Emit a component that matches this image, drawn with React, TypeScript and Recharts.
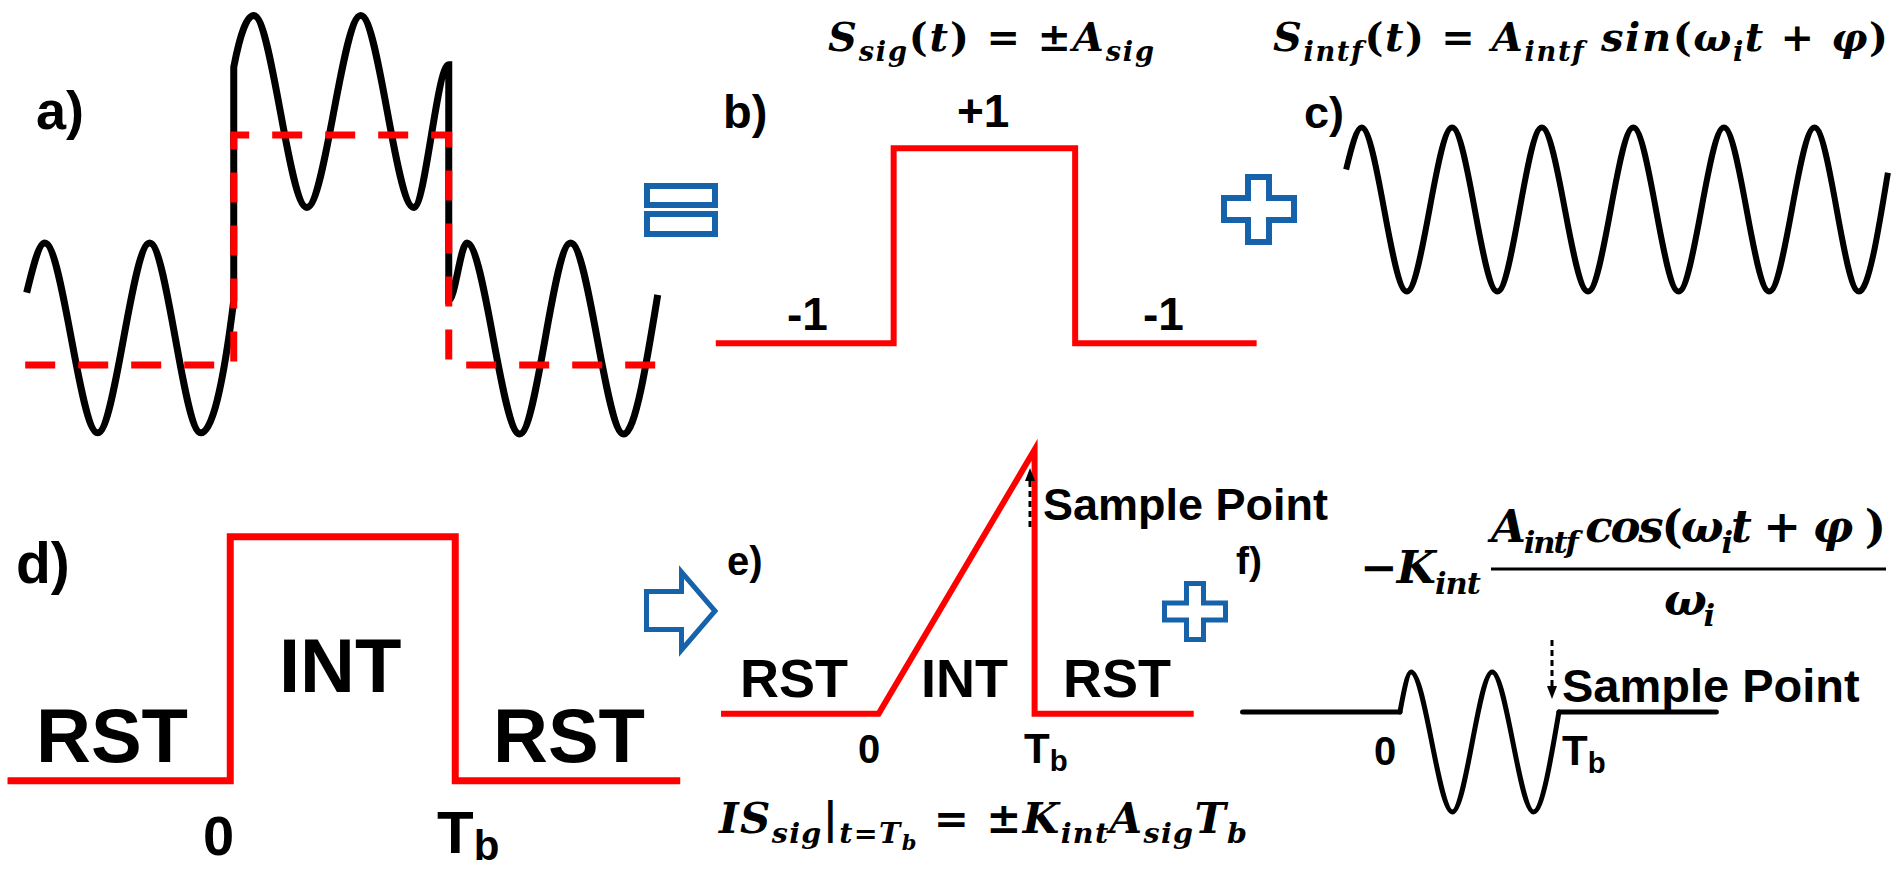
import React from "react";
import { LineChart, Line, XAxis, YAxis } from "recharts";

type Pt = { t: number; v: number };

// a) received signal = bit level + interference (t in bit periods, t=0 start of bit)
const mixedSignal: Pt[] = [
    { t: -0.963, v: -0.37 }, { t: -0.879, v: 0.06 }, { t: -0.633, v: -1.59 }, { t: -0.391, v: 0.06 },
    { t: -0.153, v: -1.59 }, { t: 0, v: -0.44 }, { t: 0, v: 1.59 }, { t: 0.093, v: 2.04 },
    { t: 0.34, v: 0.37 }, { t: 0.591, v: 2.04 }, { t: 0.837, v: 0.37 }, { t: 1, v: 1.61 },
    { t: 1, v: -0.44 }, { t: 1.084, v: 0.06 }, { t: 1.33, v: -1.6 }, { t: 1.567, v: 0.06 },
    { t: 1.814, v: -1.6 }, { t: 1.972, v: -0.39 }
];
const bitEnvelope: Pt[] = [
    { t: -0.97, v: -1 }, { t: 0, v: -1 }, { t: 0, v: 1 }, { t: 1, v: 1 }, { t: 1, v: -1 }, { t: 1.99, v: -1 }
];

// b) wanted signal
const bitSignal: Pt[] = [
    { t: -0.98, v: -1 }, { t: 0, v: -1 }, { t: 0, v: 1 }, { t: 1, v: 1 }, { t: 1, v: -1 }, { t: 2.0, v: -1 }
];

// c) interferer, t in interferer periods
const interferer: Pt[] = [
    { t: 0, v: 0.49 }, { t: 0.17, v: 1 }, { t: 0.67, v: -1 }, { t: 1.17, v: 1 }, { t: 1.67, v: -1 },
    { t: 2.16, v: 1 }, { t: 2.67, v: -1 }, { t: 3.17, v: 1 }, { t: 3.67, v: -1 }, { t: 4.17, v: 1 },
    { t: 4.67, v: -1 }, { t: 5.17, v: 1 }, { t: 5.66, v: -1 }, { t: 5.98, v: 0.45 }
];

// d) reset / integrate control
const controlGate: Pt[] = [
    { t: -0.99, v: 0 }, { t: 0, v: 0 }, { t: 0, v: 1 }, { t: 1, v: 1 }, { t: 1, v: 0 }, { t: 2.0, v: 0 }
];

// e) integrated wanted signal
const integratedSignal: Pt[] = [
    { t: -1.01, v: 0 }, { t: 0, v: 0 }, { t: 1, v: 1 }, { t: 1, v: 0 }, { t: 2.02, v: 0 }
];

// f) integrated interferer
const intfReset1: Pt[] = [{ t: -0.99, v: 0 }, { t: 0, v: 0 }];
const intfIntegrated: Pt[] = [
    { t: 0, v: 0 }, { t: 0.07, v: 0.4 }, { t: 0.33, v: -1 }, { t: 0.58, v: 0.4 }, { t: 0.84, v: -1 }, { t: 1, v: 0 }
];
const intfReset2: Pt[] = [{ t: 1, v: 0 }, { t: 1.99, v: 0 }];

const panelTags = ["a)", "b)", "c)", "d)", "e)", "f)"];
const levelLabels = ["+1", "-1", "-1"];
const phaseLabels = ["RST", "INT", "RST"];
const timeTicks = ["0", "T"];
const tickSub = "b";
const sampleLabel = "Sample Point";

type Part = [string, "i" | "u" | "s" | "ss"];
const eqSignal: Part[] = [["S", "i"], ["sig", "s"], ["(", "u"], ["t", "i"], [") = ±", "u"], ["A", "i"], ["sig", "s"]];
const eqInterferer: Part[] = [
    ["S", "i"], ["intf", "s"], ["(", "u"], ["t", "i"], [") = ", "u"], ["A", "i"], ["intf", "s"], [" sin", "i"],
    ["(", "u"], ["ω", "i"], ["i", "s"], ["t", "i"], [" + ", "u"], ["φ", "i"], [")", "u"]
];
const eqSample: Part[] = [
    ["IS", "i"], ["sig", "s"], ["|", "u"], ["t=T", "s"], ["b", "ss"], [" = ±", "u"], ["K", "i"], ["int", "s"],
    ["A", "i"], ["sig", "s"], ["T", "i"], ["b", "s"]
];
const eqGain: Part[] = [["−", "u"], ["K", "i"], ["int", "s"]];
const eqNumerator: Part[] = [
    ["A", "i"], ["intf ", "s"], ["cos", "i"], ["(", "u"], ["ω", "i"], ["i", "s"], ["t", "i"], [" + ", "u"], ["φ", "i"], [" )", "u"]
];
const eqDenominator: Part[] = [["ω", "i"], ["i", "s"]];

const RED = "#ff0000";
const BLUE = "#1763ab";
const SANS = "'Liberation Sans', Arial, sans-serif";
const SERIF = "'DejaVu Serif', serif";

type Layout = { x0: number; y0: number; sx: number; sy: number; xDomain: [number, number]; yDomain: [number, number] };

const Panel = ({ layout, children }: { layout: Layout; children: React.ReactNode }) => {
    const pad = 24;
    const { x0, y0, sx, sy, xDomain, yDomain } = layout;
    const left = x0 + sx * xDomain[0];
    const top = y0 - sy * yDomain[1];
    const w = sx * (xDomain[1] - xDomain[0]);
    const h = sy * (yDomain[1] - yDomain[0]);
    return (
        <div style={{ position: "absolute", left: left - pad, top: top - pad }}>
            <LineChart width={w + 2 * pad} height={h + 2 * pad} margin={{ top: pad, right: pad, bottom: pad, left: pad }}>
                <XAxis type="number" dataKey="t" domain={xDomain} hide allowDataOverflow />
                <YAxis type="number" dataKey="v" domain={yDomain} hide allowDataOverflow />
                {children}
            </LineChart>
        </div>
    );
};

const trace = (data: Pt[], stroke: string, width: number, type: any = "linear", extra: any = {}) => (
    <Line
        data={data}
        dataKey="v"
        type={type}
        stroke={stroke}
        strokeWidth={width}
        dot={false}
        activeDot={false}
        isAnimationActive={false}
        {...extra}
    />
);

const Formula = ({ x, y, size, parts, width }: { x: number; y: number; size: number; parts: Part[]; width?: number }) => {
    const off = [0, 0.24, 0.4];
    const scale = [1, 0.68, 0.5];
    let level = 0;
    return (
        <text
            x={x}
            y={y}
            fontSize={size}
            fontFamily={SERIF}
            fontWeight={700}
            style={{ whiteSpace: "pre" }}
            textLength={width}
            lengthAdjust="spacing"
        >
            {parts.map(([s, k], i) => {
                const lv = k === "s" ? 1 : k === "ss" ? 2 : 0;
                const dy = (off[lv] - off[level]) * size;
                level = lv;
                return (
                    <tspan key={i} dy={dy} fontSize={size * scale[lv]} fontStyle={k === "u" ? "normal" : "italic"}>
                        {s}
                    </tspan>
                );
            })}
        </text>
    );
};

const Label = ({ x, y, size, text, sub, subShift = 0.18 }: { x: number; y: number; size: number; text: string; sub?: string; subShift?: number }) => (
    <text x={x} y={y} fontSize={size} fontFamily={SANS} fontWeight={700} fill="#000">
        {text}
        {sub && (
            <tspan fontSize={size * 0.7} dy={size * subShift}>
                {sub}
            </tspan>
        )}
    </text>
);

const App = () => {
    return (
        <div style={{ position: "absolute", left: 0, top: 0, width: 1897, height: 870, background: "#fff", overflow: "hidden" }}>
            <Panel layout={{ x0: 234, y0: 250, sx: 215, sy: 115, xDomain: [-1.05, 2.05], yDomain: [-1.8, 2.2] }}>
                {trace(mixedSignal, "#000", 7, "monotone")}
                {trace(bitEnvelope, RED, 7, "linear", { strokeDasharray: "30 23" })}
            </Panel>
            <Panel layout={{ x0: 893.5, y0: 245.5, sx: 181.5, sy: 97.5, xDomain: [-1.1, 2.1], yDomain: [-1.3, 1.3] }}>
                {trace(bitSignal, RED, 6)}
            </Panel>
            <Panel layout={{ x0: 1346, y0: 210, sx: 90.6, sy: 82, xDomain: [-0.2, 6.2], yDomain: [-1.3, 1.3] }}>
                {trace(interferer, "#000", 6, "monotone")}
            </Panel>
            <Panel layout={{ x0: 230, y0: 781, sx: 225, sy: 244, xDomain: [-1.05, 2.05], yDomain: [-0.2, 1.2] }}>
                {trace(controlGate, RED, 7)}
            </Panel>
            <Panel layout={{ x0: 879, y0: 714, sx: 156, sy: 264, xDomain: [-1.1, 2.1], yDomain: [-0.2, 1.2] }}>
                {trace(integratedSignal, RED, 6)}
            </Panel>
            <Panel layout={{ x0: 1400, y0: 712, sx: 159, sy: 100, xDomain: [-1.05, 2.05], yDomain: [-1.3, 0.7] }}>
                {trace(intfReset1, "#000", 5, "linear", { strokeLinecap: "round" })}
                {trace(intfIntegrated, "#000", 5, "monotone", { strokeLinecap: "round" })}
                {trace(intfReset2, "#000", 5, "linear", { strokeLinecap: "round" })}
            </Panel>

            <svg width={1897} height={870} style={{ position: "absolute", left: 0, top: 0, pointerEvents: "none" }}>
                {/* operators between panels */}
                <g fill="#fff" stroke={BLUE} strokeWidth={6}>
                    <rect x={647} y={186} width={68} height={19} />
                    <rect x={647} y={214} width={68} height={20} />
                    <polygon points="1248,177 1269,177 1269,198 1294,198 1294,220 1269,220 1269,242 1248,242 1248,220 1224,220 1224,198 1248,198" />
                </g>
                <g fill="#fff" stroke={BLUE} strokeWidth={5}>
                    <polygon points="646.5,591.5 681.5,591.5 681.5,572 715,611 681.5,650 681.5,629.5 646.5,629.5" />
                    <polygon points="1186.5,583.5 1203.5,583.5 1203.5,603 1225.5,603 1225.5,620 1203.5,620 1203.5,639.5 1186.5,639.5 1186.5,620 1164.5,620 1164.5,603 1186.5,603" />
                </g>

                {/* sample point arrows */}
                <line x1={1030} y1={527} x2={1030} y2={481} stroke="#000" strokeWidth={3} strokeDasharray="6 4" />
                <polygon points="1030,468 1025,481 1035,481" fill="#000" />
                <line x1={1552} y1={640} x2={1552} y2={686} stroke="#000" strokeWidth={3} strokeDasharray="6 4" />
                <polygon points="1552,699 1547,686 1557,686" fill="#000" />

                {/* panel tags */}
                <Label x={36} y={129} size={54} text={panelTags[0]} />
                <Label x={723} y={128} size={47} text={panelTags[1]} />
                <Label x={1304} y={128} size={45} text={panelTags[2]} />
                <Label x={16} y={583} size={57} text={panelTags[3]} />
                <Label x={727} y={575} size={40} text={panelTags[4]} />
                <Label x={1236} y={574} size={39} text={panelTags[5]} />

                {/* b) levels */}
                <Label x={957} y={127} size={46} text={levelLabels[0]} />
                <Label x={787} y={330} size={46} text={levelLabels[1]} />
                <Label x={1143} y={330} size={46} text={levelLabels[2]} />

                {/* d) phases */}
                <Label x={36} y={762} size={76} text={phaseLabels[0]} />
                <Label x={279} y={692} size={76} text={phaseLabels[1]} />
                <Label x={493} y={762} size={76} text={phaseLabels[2]} />
                <Label x={203} y={855} size={56} text={timeTicks[0]} />
                <Label x={437} y={853} size={60} text={timeTicks[1]} sub={tickSub} subShift={0.12} />

                {/* e) phases */}
                <Label x={740} y={697} size={54} text={phaseLabels[0]} />
                <Label x={921} y={697} size={54} text={phaseLabels[1]} />
                <Label x={1063} y={697} size={54} text={phaseLabels[2]} />
                <Label x={858} y={763} size={40} text={timeTicks[0]} />
                <Label x={1024} y={763} size={42} text={timeTicks[1]} sub={tickSub} />
                <Label x={1043} y={520} size={45} text={sampleLabel} />

                {/* f) */}
                <Label x={1374} y={765} size={40} text={timeTicks[0]} />
                <Label x={1562} y={765} size={42} text={timeTicks[1]} sub={tickSub} />
                <Label x={1562} y={702} size={47} text={sampleLabel} />

                {/* equations */}
                <Formula x={828} y={51} size={40} parts={eqSignal} width={326} />
                <Formula x={1273} y={51} size={40} parts={eqInterferer} width={615} />
                <Formula x={719} y={833} size={42} parts={eqSample} width={528} />
                <Formula x={1360} y={583} size={45} parts={eqGain} width={121} />
                <Formula x={1491} y={542} size={45} parts={eqNumerator} width={395} />
                <Formula x={1664} y={615} size={45} parts={eqDenominator} width={51} />
                <line x1={1491} y1={569} x2={1886} y2={569} stroke="#000" strokeWidth={3} />
            </svg>
        </div>
    );
};

export default App;
